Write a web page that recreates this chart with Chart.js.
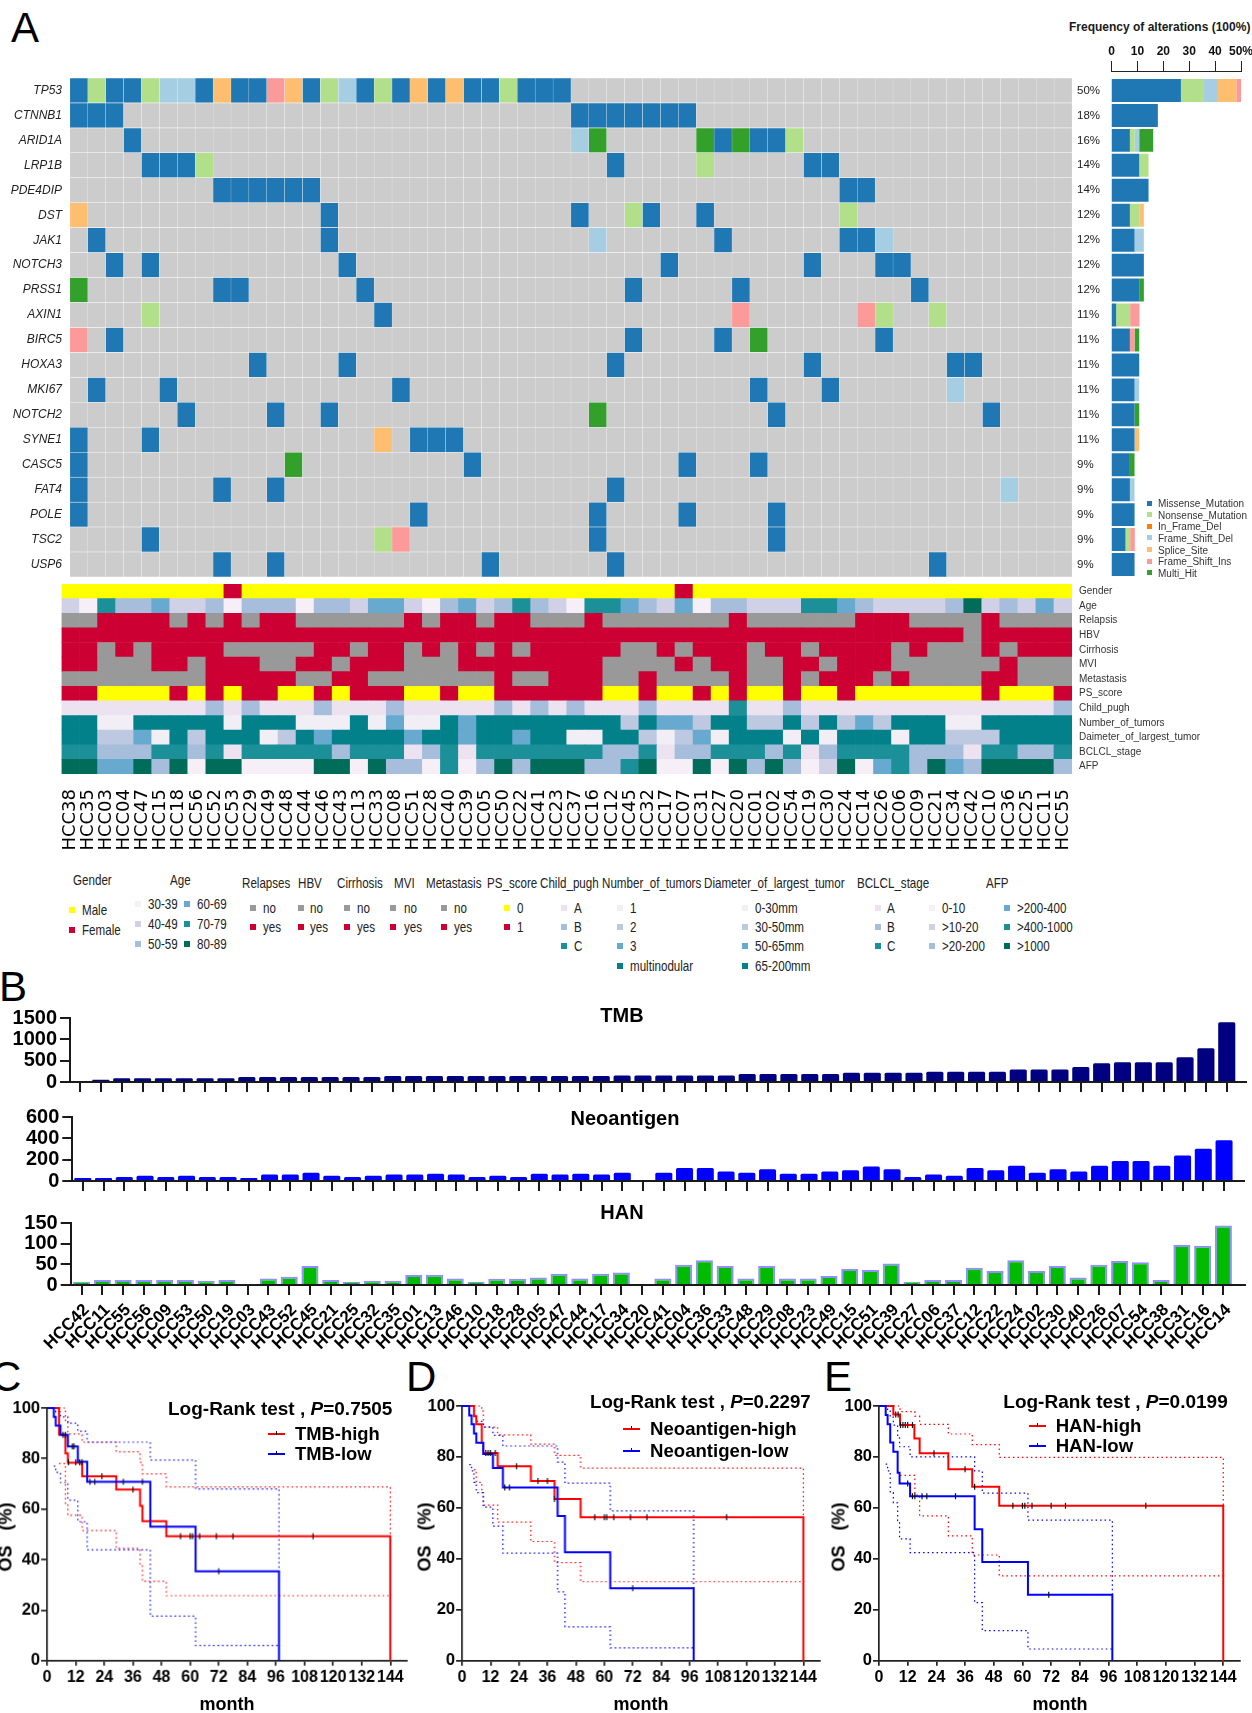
<!DOCTYPE html>
<html>
<head>
<meta charset="utf-8">
<style>
  html, body { margin: 0; padding: 0; background: #fff; }
  #page { position: relative; width: 1252px; height: 1713px; overflow: hidden; font-family: "Liberation Sans", sans-serif; }
  #page canvas { position: absolute; }
  .t { position: absolute; white-space: nowrap; color: #1a1a1a; transform-origin: left center; }
  .sq { position: absolute; }
</style>
</head>
<body>
<div id="page"></div>
<script src="https://cdn.jsdelivr.net/npm/chart.js@4"></script>
<script>
// ---------- panel A data ----------
const samples = ["HCC38","HCC35","HCC03","HCC04","HCC47","HCC15","HCC18","HCC56","HCC52","HCC53","HCC29","HCC49","HCC48","HCC44","HCC46","HCC43","HCC13","HCC33","HCC08","HCC51","HCC28","HCC40","HCC39","HCC05","HCC50","HCC22","HCC41","HCC23","HCC37","HCC16","HCC12","HCC45","HCC32","HCC17","HCC07","HCC31","HCC27","HCC20","HCC01","HCC02","HCC54","HCC19","HCC30","HCC24","HCC14","HCC26","HCC06","HCC09","HCC21","HCC34","HCC42","HCC10","HCC36","HCC25","HCC11","HCC55"];
const genes = ["TP53","CTNNB1","ARID1A","LRP1B","PDE4DIP","DST","JAK1","NOTCH3","PRSS1","AXIN1","BIRC5","HOXA3","MKI67","NOTCH2","SYNE1","CASC5","FAT4","POLE","TSC2","USP6"];
const genePct = ["50%","18%","16%","14%","14%","12%","12%","12%","12%","11%","11%","11%","11%","11%","11%","9%","9%","9%","9%","9%"];

// sample positions per mutation type: M missense, N nonsense, F fs del, S splice, I fs ins, H multi hit
const mutTP53 = {M:[0,2,3,7,9,10,13,16,18,20,22,23,25,26,27],N:[1,4,14,17,24],F:[5,6,15],S:[8,12,19,21],I:[11]};
const mutCTNNB1 = {M:[0,1,2,28,29,30,31,32,33,34]};
const mutARID1A = {M:[3,36,38,39],N:[40],F:[28],H:[29,35,37]};
const mutLRP1B = {M:[4,5,6,30,41,42],N:[7,35]};
const mutPDE4DIP = {M:[8,9,10,11,12,13,43,44]};
const mutDST = {M:[14,28,32,35],N:[31,43],S:[0]};
const mutJAK1 = {M:[1,14,36,43,44],F:[29,45]};
const mutNOTCH3 = {M:[2,4,15,33,41,45,46]};
const mutPRSS1 = {M:[8,9,16,31,37,47],H:[0]};
const mutAXIN1 = {M:[17],N:[4,45,48],I:[37,44]};
const mutBIRC5 = {M:[2,31,36,45],I:[0],H:[38]};
const mutHOXA3 = {M:[10,15,30,41,49,50]};
const mutMKI67 = {M:[1,5,18,38,42],F:[49]};
const mutNOTCH2 = {M:[6,11,14,39,51],H:[29]};
const mutSYNE1 = {M:[0,4,19,20,21],S:[17]};
const mutCASC5 = {M:[0,22,34,38],H:[12]};
const mutFAT4 = {M:[0,8,11,30],F:[52]};
const mutPOLE = {M:[0,19,29,34,39]};
const mutTSC2 = {M:[4,29,39],N:[17],I:[18]};
const mutUSP6 = {M:[8,11,23,30,48]};
const geneMuts = [mutTP53,mutCTNNB1,mutARID1A,mutLRP1B,mutPDE4DIP,mutDST,mutJAK1,mutNOTCH3,mutPRSS1,mutAXIN1,mutBIRC5,mutHOXA3,mutMKI67,mutNOTCH2,mutSYNE1,mutCASC5,mutFAT4,mutPOLE,mutTSC2,mutUSP6];

const freqMissense = [26.8,17.9,7.1,10.7,14.3,7.1,8.9,12.5,10.7,1.8,7.1,10.7,8.9,8.9,8.9,7.1,7.1,8.9,5.4,8.9];
const freqNonsense = [8.9,0,1.8,3.6,0,3.6,0,0,0,5.4,0,0,0,0,0,0,0,0,1.8,0];
const freqFsDel = [5.4,0,1.8,0,0,0,3.6,0,0,0,0,0,1.8,0,0,0,1.8,0,0,0];
const freqSplice = [7.1,0,0,0,0,1.8,0,0,0,0,0,0,0,0,1.8,0,0,0,0,0];
const freqFsIns = [1.8,0,0,0,0,0,0,0,0,3.6,1.8,0,0,0,0,0,0,0,1.8,0];
const freqMulti = [0,0,5.4,0,0,0,0,0,1.8,0,1.8,0,0,1.8,0,1.8,0,0,0,0];

// clinical rows, one digit per sample
const annotNames = ["Gender","Age","Relapsis","HBV","Cirrhosis","MVI","Metastasis","PS_score","Child_pugh","Number_of_tumors","Daimeter_of_largest_tumor","BCLCL_stage","AFP"];
const annGender = "0000000001 0000000000 0000000000 0000100000 0000000000 000000";
const annAge = "2153342231 3331332442 1342353215 5432413322 2554322223 623242";
const annRelapse = "0011110101 0110000001 0110110001 0000000100 0000111000 010000";
const annHBV = "1111111111 1111111111 1111111111 1111111111 1111111111 011111";
const annCirrhosis = "1101011110 0000110110 1010101111 1001011101 1011110100 010111";
const annMVI = "1100011011 1001101110 0011111111 0000101100 1101110000 001000";
const annMetastasis = "0000000011 1110011000 0000100111 0010000100 1011101000 011000";
const annPS = "1100001010 1100101110 0100111111 0010010100 1001000000 010001";
const annChild = "1111111121 2111211121 1111212121 1121111311 2111111111 111112";
const annNumber = "4411444441 4441114131 1434444444 4243324422 4242324441 144444";
const annDiameter = "4422314244 4124344443 4434434411 4421231444 1414441442 224444";
const annBCLC = "3322233231 3333323331 2313333333 2231223332 3123333222 133223";
const annAFP = "6644636166 1111661633 1513636663 3561161636 3126145364 366663";
const annotCodes = [annGender,annAge,annRelapse,annHBV,annCirrhosis,annMVI,annMetastasis,annPS,annChild,annNumber,annDiameter,annBCLC,annAFP];

// ---------- panel B data ----------
const bSamples = ["HCC42","HCC11","HCC55","HCC56","HCC09","HCC53","HCC50","HCC19","HCC03","HCC43","HCC52","HCC45","HCC21","HCC25","HCC32","HCC35","HCC01","HCC13","HCC46","HCC10","HCC18","HCC28","HCC05","HCC47","HCC44","HCC17","HCC34","HCC20","HCC41","HCC04","HCC36","HCC33","HCC48","HCC29","HCC08","HCC23","HCC49","HCC15","HCC51","HCC39","HCC27","HCC06","HCC37","HCC12","HCC22","HCC24","HCC02","HCC30","HCC40","HCC26","HCC07","HCC54","HCC38","HCC31","HCC16","HCC14"];
const tmbValues = [25,50,90,90,90,90,90,90,115,115,115,115,115,115,115,140,140,140,140,140,140,140,140,140,140,140,155,155,155,155,155,155,185,185,185,185,185,215,215,215,215,240,240,240,240,295,295,295,350,440,465,465,465,580,790,1400];
const neoValues = [28,28,38,50,38,50,38,38,28,60,60,78,50,38,50,60,60,69,60,38,50,38,69,60,69,60,78,0,78,122,122,88,78,110,69,69,88,100,135,110,38,60,50,122,100,144,78,110,88,144,188,188,144,240,303,381];
const hanValues = [8,12,12,12,12,12,10,12,2,16,20,46,12,7,10,10,24,25,16,7,15,15,18,27,16,27,30,0,16,49,60,46,16,46,16,16,22,39,36,52,8,12,12,42,34,60,34,46,18,49,58,55,12,97,95,144];

// ---------- panels C, D, E data: [month, OS %] ----------
const monthTicks = [0,12,24,36,48,60,72,84,96,108,120,132,144];

const tmbHigh = [[0,100],[5,89.5],[7.7,82],[8.7,78.3],[14.7,73],[29,67.7],[39,61.3],[40,55.2],[50,49.2],[144,0]];
const tmbLow = [[0,100],[2.8,96.5],[3.6,93],[5.6,89.4],[8.7,84.8],[12.9,78.7],[16.8,70.8],[43.3,53],[62.3,35.3],[97.3,0]];
const tmbHighUp = [[5,100],[7.7,94.5],[8.7,89.7],[14.7,86.5],[29,82.7],[39,78.5],[40,73.9],[50,68.8],[144,49.2]];
const tmbHighLo = [[5,78],[7.7,62],[8.7,57.5],[14.7,51.5],[29,44.4],[39,37.5],[40,31.4],[50,25.7],[144,25.7]];
const tmbLowUp = [[2.8,100],[3.6,98.5],[5.6,96.5],[8.7,94],[12.9,90.8],[16.8,86.5],[43.3,79.4],[62.3,68],[97.3,35.3]];
const tmbLowLo = [[2.8,77],[3.6,74.5],[5.6,70.5],[8.7,63.5],[12.9,55],[16.8,43.8],[43.3,17.6],[62.3,6],[97.3,6]];
const tmbCensor = [[56,49.2],[60,49.2],[61,49.2],[64,49.2],[71,49.2],[78,49.2],[111.6,49.2],[23,73],[36,67.7],[72,35.3],[18,70.8],[20,70.8],[32,70.8],[40,70.8],[9,78.5],[12,78.5],[13.7,78.5],[14.7,78.5],[10.6,84.8],[11.3,84.8],[6.7,89.4],[7.7,89.4]];

const neoHigh = [[0,100],[5,96],[6,92.8],[8.3,85.5],[9,81.5],[15,76.3],[29,70.6],[39,63.5],[50,56.3],[144,0]];
const neoLow = [[0,100],[3,96.3],[4,92.8],[5,89.2],[6,85.6],[8.9,81.2],[13,75.7],[17.2,68],[40.3,56.8],[43.4,42.6],[62.5,28.4],[97.7,0]];
const neoHighUp = [[5,100],[8.3,98],[9,91.7],[15,88.7],[29,85],[39,80.6],[50,75.6],[144,56.3]];
const neoHighLo = [[5,75],[6,70],[8.3,66],[9,61.1],[15,54.4],[29,46.8],[39,38.5],[50,31],[144,31]];
const neoLowUp = [[3,100],[5,96.5],[6,94],[8.9,91.7],[13,88.5],[17.2,84.3],[40.3,78],[43.4,69.7],[62.5,58.8],[97.7,28.4]];
const neoLowLo = [[3,77],[4,74.5],[5,70],[6,66],[8.9,60.3],[13,52.8],[17.2,42.2],[40.3,27],[43.4,13.3],[62.5,5],[97.7,5]];
const neoCensor = [[56,56.3],[60,56.3],[61,56.3],[64,56.3],[71,56.3],[78,56.3],[111.6,56.3],[23,76.3],[32,70.6],[36,70.6],[10,81.5],[11,81.5],[12,81.5],[14,81.5],[72,28.4],[18,68],[20,68],[39,63.5]];

const hanHigh = [[0,100],[6,96.7],[8.8,92.5],[14.8,87.2],[17,81.4],[29,75.2],[39,68.3],[50.3,60.8],[144,0]];
const hanLow = [[0,100],[2.8,96.5],[3.6,92.8],[4.7,85.7],[6,82],[7.8,73.8],[8.6,69.6],[13,64.6],[40,51.6],[43.2,38.8],[62.3,25.9],[97.6,0]];
const hanHighUp = [[6,100],[8.8,97.8],[15,96],[17,92.8],[29,89],[39,84.8],[50.3,79.8],[144,60.8]];
const hanHighLo = [[8.8,72.8],[15,65],[17,56.9],[29,49],[39,41.5],[50.3,33.3],[144,33.3]];
const hanLowUp = [[2.8,100],[3.6,98],[4.7,95.6],[6,92.5],[7.8,87.5],[8.6,84],[13,80],[40,74.5],[43.2,65.8],[62.3,55.2],[97.6,25.9]];
const hanLowLo = [[2.8,77.2],[3.6,74.5],[4.7,66],[6,62],[7.8,55],[8.6,47.8],[13,42.4],[40,22.8],[43.2,11.8],[62.3,4.6],[97.6,4.6]];
const hanCensor = [[56,60.8],[60,60.8],[61,60.8],[64,60.8],[72,60.8],[78,60.8],[111.6,60.8],[23,81.4],[36,75.2],[40,68.3],[9,92.5],[10,92.5],[11,92.5],[12,92.5],[14,92.5],[7,96.7],[8,96.7],[71,25.9],[14,64.6],[15,64.6],[18,64.6],[20,64.6],[32,64.6],[12,69.6]];

// ---------- helpers ----------
const page = document.getElementById("page");
Chart.defaults.font.family = '"Liberation Sans", sans-serif';
Chart.defaults.color = "#111";
Chart.defaults.animation = false;
Chart.defaults.responsive = false;
Chart.defaults.plugins.legend.display = false;
Chart.defaults.plugins.tooltip.enabled = false;

function addChart(left, top, width, height, config) {
  const c = document.createElement("canvas");
  c.width = width; c.height = height;
  c.style.left = left + "px"; c.style.top = top + "px";
  c.style.width = width + "px"; c.style.height = height + "px";
  page.appendChild(c);
  return new Chart(c, config);
}
function label(x, y, html, o = {}) {
  const d = document.createElement("div");
  d.className = "t";
  d.innerHTML = html;
  d.style.left = x + "px"; d.style.top = y + "px";
  d.style.fontSize = (o.size || 12) + "px";
  if (o.weight) d.style.fontWeight = o.weight;
  if (o.color) d.style.color = o.color;
  d.style.transform = o.transform || ("translateY(-50%)" + (o.sx ? " scaleX(" + o.sx + ")" : ""));
  if (o.origin) d.style.transformOrigin = o.origin;
  page.appendChild(d);
}
function square(cx, cy, size, color) {
  const d = document.createElement("div");
  d.className = "sq";
  d.style.left = (cx - size / 2) + "px"; d.style.top = (cy - size / 2) + "px";
  d.style.width = size + "px"; d.style.height = size + "px";
  d.style.background = color;
  page.appendChild(d);
}
// fixed axis sizes, and no extra inset from tick labels, so plot areas land where they should
const fixW = (w) => (s) => { s.width = w; s.paddingTop = 0; s.paddingBottom = 0; };
const fixH = (h) => (s) => { s.height = h; s.paddingLeft = 0; s.paddingRight = 0; };

// ---------- panel A: oncoplot ----------
const mutColor = {M:"#1f78b4",N:"#b2df8a",O:"#ff7f00",F:"#a6cee3",S:"#fdbf6f",I:"#fb9a99",H:"#33a02c"};
const oncoCells = [], oncoColors = [];
genes.forEach((g, r) => {
  samples.forEach((s, c) => {
    let col = "#cccccc";
    for (const k in geneMuts[r]) if (geneMuts[r][k].includes(c)) col = mutColor[k];
    oncoCells.push({x: [c, c + 1], y: g});
    oncoColors.push(col);
  });
});
addChart(0, 78, 1110, 499, {
  type: "bar",
  data: {datasets: [{
    data: oncoCells, backgroundColor: oncoColors,
    borderColor: "#f6f6f6", borderWidth: {top: .6, bottom: .6, left: .4, right: .4}, borderSkipped: false,
    barPercentage: 1, categoryPercentage: 1, xAxisID: "x", yAxisID: "y"
  }]},
  options: {
    indexAxis: "y",
    scales: {
      x: {type: "linear", min: 0, max: 56, display: false, offset: false, grid: {offset: false}},
      y: {type: "category", labels: genes, offset: true, afterFit: fixW(70),
        grid: {display: false, drawTicks: false}, border: {display: false},
        ticks: {padding: 8, autoSkip: false, color: "#222", font: {size: 12, style: "italic"}}},
      yr: {type: "category", labels: genePct, position: "right", offset: true, afterFit: fixW(38),
        grid: {display: false, drawTicks: false}, border: {display: false},
        ticks: {padding: 5, autoSkip: false, color: "#222", font: {size: 11.5}}}
    }
  }
});

// frequency bars on the right
const freqSeries = [
  [freqMissense, mutColor.M], [freqNonsense, mutColor.N], [freqFsDel, mutColor.F],
  [freqSplice, mutColor.S], [freqFsIns, mutColor.I], [freqMulti, mutColor.H]
];
addChart(1096, 78, 156, 499, {
  type: "bar",
  data: {labels: genes, datasets: freqSeries.map(([d, col]) => ({
    data: d, backgroundColor: col, barPercentage: .92, categoryPercentage: 1
  }))},
  options: {
    indexAxis: "y",
    layout: {padding: {left: 15.5, right: 11}},
    scales: {
      x: {stacked: true, min: 0, max: 50, display: false},
      y: {stacked: true, display: false}
    }
  }
});
addChart(1096, 38, 156, 36, {
  type: "bar",
  data: {labels: [""], datasets: [{data: [0]}]},
  options: {
    indexAxis: "y",
    layout: {padding: {left: 15.5, right: 11}},
    scales: {
      x: {position: "top", min: 0, max: 50, afterFit: fixH(33),
        ticks: {stepSize: 10, autoSkip: false, maxRotation: 0, padding: 2, color: "#111", font: {size: 12, weight: "bold"},
          callback: (v) => v === 50 ? "50%" : v},
        grid: {drawOnChartArea: false, tickLength: 10, color: "#222", lineWidth: 1},
        border: {color: "#222", width: 1}},
      y: {display: false}
    }
  }
});
label(1069, 27, "Frequency of alterations (100%)", {size: 12, weight: "bold"});

// clinical annotation heat map
const palYesNo = ["#999999", "#cc0033"];
const palYellowRed = ["#ffff00", "#cc0033"];
const palAge = ["", "#f6eff7", "#d0d1e6", "#a6bddb", "#67a9cf", "#1c9099", "#016c59"];
const palABC = ["", "#ece2f0", "#a6bddb", "#1c9099"];
const palFour = ["", "#f1eef6", "#bdc9e1", "#67a9cf", "#02818a"];
const annotPalettes = [palYellowRed, palAge, palYesNo, palYesNo, palYesNo, palYesNo, palYesNo, palYellowRed, palABC, palFour, palFour, palABC, palAge];
const annotCells = [], annotColors = [];
annotNames.forEach((name, r) => {
  const codes = annotCodes[r].replace(/ /g, "");
  samples.forEach((s, c) => {
    annotCells.push({x: [c, c + 1], y: name});
    annotColors.push(annotPalettes[r][+codes[c]]);
  });
});
addChart(0, 584, 1252, 285, {
  type: "bar",
  data: {datasets: [{
    data: annotCells, backgroundColor: annotColors, borderWidth: 0,
    barPercentage: 1, categoryPercentage: 1, xAxisID: "x", yAxisID: "y"
  }]},
  options: {
    indexAxis: "y",
    layout: {padding: {left: 61.5}},
    scales: {
      x: {type: "linear", min: 0, max: 56, display: false, offset: false, grid: {offset: false}},
      xs: {type: "category", labels: samples, position: "bottom", offset: true, afterFit: fixH(95),
        grid: {display: false, drawTicks: false}, border: {display: false},
        ticks: {minRotation: 90, maxRotation: 90, autoSkip: false, padding: 15, color: "#000",
          font: {family: '"DejaVu Sans"', size: 18}}},
      y: {type: "category", labels: annotNames, offset: true, display: false},
      yr: {type: "category", labels: annotNames, position: "right", offset: true, afterFit: fixW(180),
        grid: {display: false, drawTicks: false}, border: {display: false},
        ticks: {padding: 7, autoSkip: false, color: "#333", font: {size: 10}}}
    }
  }
});

// mutation legend
const mutLegend = [["Missense_Mutation","M"],["Nonsense_Mutation","N"],["In_Frame_Del","O"],["Frame_Shift_Del","F"],["Splice_Site","S"],["Frame_Shift_Ins","I"],["Multi_Hit","H"]];
mutLegend.forEach(([txt, k], i) => {
  const y = 503 + i * 11.65;
  square(1149, y, 5, mutColor[k]);
  label(1158, y, txt, {size: 10, color: "#333"});
});

// clinical legend
const condensed = {size: 14.5, sx: .8, color: "#222"};
const legendTitles = [["Gender",73,880],["Age",170,880],["Relapses",242,883],["HBV",298,883],["Cirrhosis",337,883],["MVI",394,883],["Metastasis",426,883],["PS_score",487,883],["Child_pugh",540,883],["Number_of_tumors",602,883],["Diameter_of_largest_tumor",704,883],["BCLCL_stage",857,883],["AFP",986,883]];
legendTitles.forEach(([t, x, y]) => label(x, y, t, condensed));

function legendCol(sqX, txtX, items, colors, ys) {
  items.forEach((it, i) => {
    square(sqX, ys[i], 6, colors[i]);
    label(txtX, ys[i], it, condensed);
  });
}
const rowsA = [908, 927, 946, 966];
legendCol(72, 82, ["Male","Female"], palYellowRed, [910, 930]);
legendCol(138, 147.5, ["30-39","40-49","50-59"], palAge.slice(1, 4), [904, 924, 944]);
legendCol(187, 197, ["60-69","70-79","80-89"], palAge.slice(4, 7), [904, 924, 944]);
legendCol(253, 263, ["no","yes"], palYesNo, rowsA);
legendCol(300.5, 310, ["no","yes"], palYesNo, rowsA);
legendCol(347, 357, ["no","yes"], palYesNo, rowsA);
legendCol(393, 404, ["no","yes"], palYesNo, rowsA);
legendCol(444, 454, ["no","yes"], palYesNo, rowsA);
legendCol(507, 517, ["0","1"], palYellowRed, rowsA);
legendCol(564, 574, ["A","B","C"], palABC.slice(1), rowsA);
legendCol(620, 630, ["1","2","3","multinodular"], palFour.slice(1), rowsA);
legendCol(745, 755, ["0-30mm","30-50mm","50-65mm","65-200mm"], palFour.slice(1), rowsA);
legendCol(878, 887, ["A","B","C"], palABC.slice(1), rowsA);
legendCol(932, 942, ["0-10",">10-20",">20-200"], palAge.slice(1, 4), rowsA);
legendCol(1007, 1017, [">200-400",">400-1000",">1000"], palAge.slice(4, 7), rowsA);

// panel letters
const letterStyle = {size: 42, color: "#000"};
label(11, 28, "A", letterStyle);
label(-1, 987, "B", letterStyle);
label(-9, 1377, "C", letterStyle);
label(406, 1377, "D", letterStyle);
label(824, 1377, "E", letterStyle);

// ---------- panel B ----------
function tmbLikeChart(o) {
  const w = 1252, top = o.top - 14, h = o.bottom - top + o.below;
  const xTo = (px) => (px - o.first) / o.pitch;
  addChart(0, top, w, h, {
    type: "bar",
    data: {datasets: [{
      data: o.values.map((v, i) => ({x: i, y: v})),
      backgroundColor: o.fill, borderColor: o.edge, borderWidth: o.edgeW, borderRadius: o.edgeW ? 0 : 1.5,
      barPercentage: .82, categoryPercentage: 1
    }]},
    options: {
      layout: {padding: {top: 14, right: w - o.right}},
      scales: {
        x: {type: "linear", min: xTo(o.left), max: xTo(o.right), offset: false, afterFit: fixH(o.below),
          afterBuildTicks: (s) => { s.ticks = bSamples.map((n, i) => ({value: i})); },
          grid: {offset: false, drawOnChartArea: false, tickLength: 10, lineWidth: 2, color: "#1a1a1a"},
          border: {color: "#1a1a1a", width: 2},
          ticks: {display: !!o.names, autoSkip: false, minRotation: 45, maxRotation: 45, padding: 5, labelOffset: 5, color: "#000",
            font: {size: 17, weight: "bold"}, callback: (v) => bSamples[v]}},
        y: {min: 0, max: o.max, afterFit: fixW(o.left),
          grid: {drawOnChartArea: false, tickLength: 10, lineWidth: 2, color: "#1a1a1a"},
          border: {color: "#1a1a1a", width: 2},
          ticks: {stepSize: o.step, autoSkip: false, padding: 3, color: "#000", font: {size: 20, weight: "bold"}, callback: (v) => v}}
      }
    }
  });
}
tmbLikeChart({values: tmbValues, max: 1500, step: 500, left: 70, right: 1246, top: 1017.7, bottom: 1082, first: 80, pitch: 20.85, fill: "#000080", edge: "#000080", edgeW: 0, below: 14});
tmbLikeChart({values: neoValues, max: 600, step: 200, left: 72.3, right: 1243.5, top: 1116.7, bottom: 1181.3, first: 82.8, pitch: 20.75, fill: "#0000ff", edge: "#0000ff", edgeW: 0, below: 14});
tmbLikeChart({values: hanValues, max: 150, step: 50, left: 70.7, right: 1244.8, top: 1222.7, bottom: 1285, first: 81.6, pitch: 20.76, fill: "#00bb00", edge: "#8f8fff", edgeW: 2, below: 70, names: true});
const bTitle = {size: 20, weight: "bold", color: "#000", transform: "translate(-50%,-50%)"};
label(622, 1015, "TMB", bTitle);
label(625, 1118, "Neoantigen", bTitle);
label(622, 1212, "HAN", bTitle);

// ---------- panels C, D, E ----------
const pts = (a) => a.map(([x, y]) => ({x, y}));
function kmChart(o) {
  const dotted = (d, col) => ({data: pts(d), showLine: true, stepped: true, pointRadius: 0, borderColor: col, borderWidth: 1.2, borderDash: [1.5, 3], clip: false});
  const solid = (d, col) => ({data: pts(d), showLine: true, stepped: true, pointRadius: 0, borderColor: col, borderWidth: 2, clip: false});
  const axisX = o.x0, pxPerMonth = o.xs;
  const cl = Math.max(0, axisX - 46), top = o.top - 12, bottom = 1660.7;
  const right = axisX + o.end * pxPerMonth;
  addChart(cl, top, right - cl + 14, 1713 - top, {
    type: "scatter",
    data: {datasets: [
      {data: pts(o.censor), pointStyle: "line", pointRotation: 90, pointRadius: 3, pointBorderColor: "#111", pointBorderWidth: 1.2, showLine: false, clip: false},
      solid(o.low, "#0000ff"), solid(o.high, "#ff0000"),
      dotted(o.lowUp, "#0000ff"), dotted(o.lowLo, "#0000ff"),
      dotted(o.highUp, "#ff0000"), dotted(o.highLo, "#ff0000")
    ]},
    options: {
      layout: {padding: {top: 12, right: 14}},
      scales: {
        x: {type: "linear", min: 0, max: o.end, afterFit: fixH(1713 - bottom),
          afterBuildTicks: (s) => { s.ticks = monthTicks.map((v) => ({value: v})); },
          grid: {drawOnChartArea: false, tickLength: 5, lineWidth: 1.7, color: "#222"},
          border: {color: "#222", width: 1.7},
          ticks: {autoSkip: false, maxRotation: 0, padding: 2, color: "#000", font: {size: 16, weight: "bold"}}},
        y: {min: 0, max: 100, afterFit: fixW(axisX - cl),
          grid: {drawOnChartArea: false, tickLength: 6, lineWidth: 1.7, color: "#222"},
          border: {color: "#222", width: 1.7},
          ticks: {stepSize: 20, autoSkip: false, padding: 1, color: "#000", font: {size: 16.5, weight: "bold"}}}
      }
    }
  });
  label(o.pX, o.pY, "Log-Rank test , <i>P</i>=" + o.p, {size: o.pSize, weight: "bold", color: "#000"});
  [[o.highName, "#ff0000", o.l1], [o.lowName, "#0000ff", o.l2]].forEach(([n, col, y]) => {
    const line = document.createElement("div");
    line.className = "sq";
    line.style.cssText = "left:" + o.lx + "px;top:" + (y - 1) + "px;width:17px;height:2px;background:" + col;
    page.appendChild(line);
    const tick = document.createElement("div");
    tick.className = "sq";
    tick.style.cssText = "left:" + (o.lx + 8) + "px;top:" + (y - 3) + "px;width:1px;height:4px;background:#111";
    page.appendChild(tick);
    label(o.tx, y, n, {size: o.lSize, weight: "bold", color: "#000"});
  });
  label(o.osX, 1537, "OS\u00a0\u00a0\u00a0(%)", {size: 18, weight: "bold", color: "#000", transform: "translate(-50%,-50%) rotate(-90deg)", origin: "center"});
  label(o.mX, 1704, "month", {size: 18, weight: "bold", color: "#000", transform: "translate(-50%,-50%)"});
}
kmChart({x0: 47.3, xs: 2.38, end: 151, top: 1408.3, high: tmbHigh, low: tmbLow, highUp: tmbHighUp, highLo: tmbHighLo, lowUp: tmbLowUp, lowLo: tmbLowLo, censor: tmbCensor,
  p: "0.7505", pX: 168, pY: 1409, pSize: 19, highName: "TMB-high", lowName: "TMB-low", lx: 268, l1: 1433.7, l2: 1454, tx: 295, lSize: 18.4, osX: 6, mX: 227});
kmChart({x0: 462.3, xs: 2.368, end: 151, top: 1405.7, high: neoHigh, low: neoLow, highUp: neoHighUp, highLo: neoHighLo, lowUp: neoLowUp, lowLo: neoLowLo, censor: neoCensor,
  p: "0.2297", pX: 590, pY: 1402, pSize: 18.7, highName: "Neoantigen-high", lowName: "Neoantigen-low", lx: 623, l1: 1428.7, l2: 1450.7, tx: 650, lSize: 18.6, osX: 425, mX: 641});
kmChart({x0: 879, xs: 2.394, end: 151, top: 1405.7, high: hanHigh, low: hanLow, highUp: hanHighUp, highLo: hanHighLo, lowUp: hanLowUp, lowLo: hanLowLo, censor: hanCensor,
  p: "0.0199", pX: 1003.3, pY: 1401.7, pSize: 19, highName: "HAN-high", lowName: "HAN-low", lx: 1029, l1: 1425.7, l2: 1445.7, tx: 1055.7, lSize: 18.6, osX: 839, mX: 1060});
</script>
</body>
</html>
